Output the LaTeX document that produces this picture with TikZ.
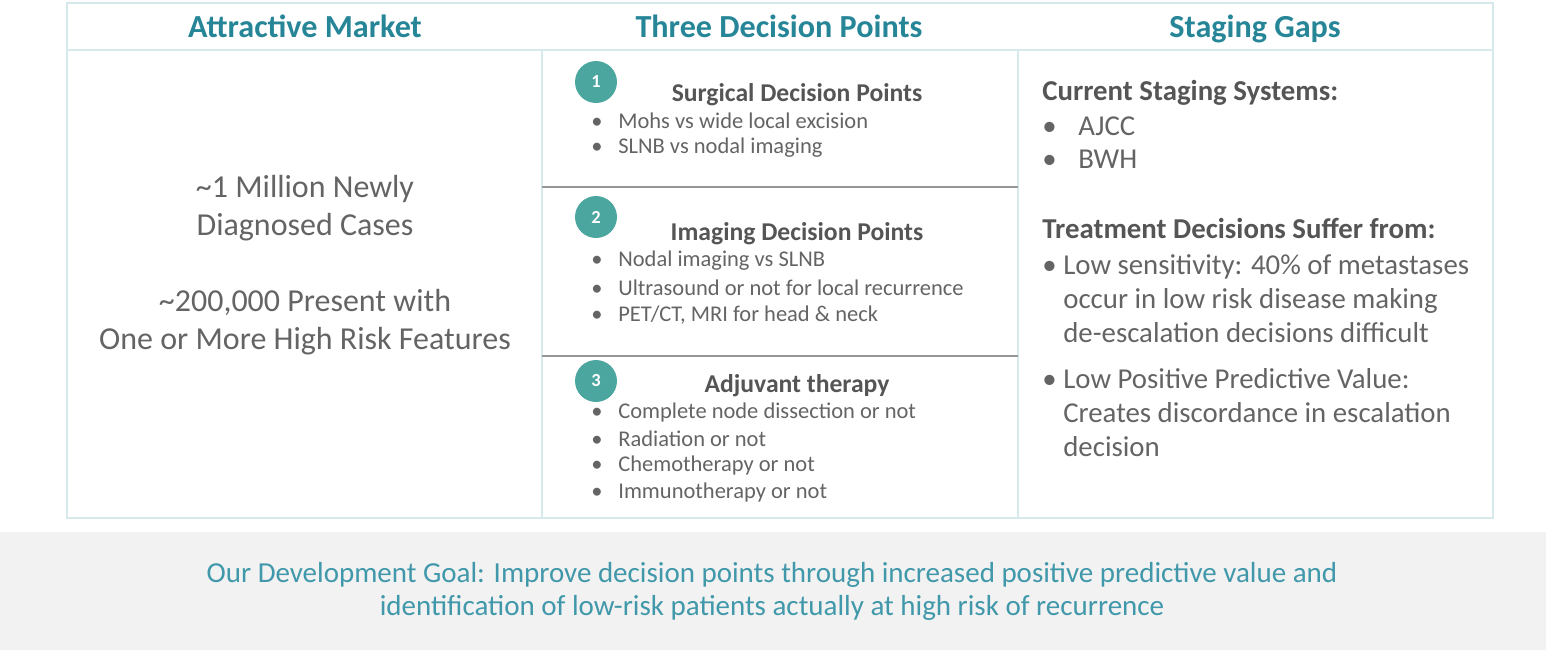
\documentclass[tikz,border=0pt]{standalone}
\usepackage{fontspec}
\setmainfont{Carlito}
\usetikzlibrary{positioning}

\definecolor{headteal}{RGB}{38,134,152}
\definecolor{goalteal}{RGB}{64,152,170}
\definecolor{circteal}{RGB}{76,166,160}
\definecolor{tableline}{RGB}{214,234,236}
\definecolor{divgrey}{RGB}{150,150,150}
\definecolor{bodygrey}{RGB}{100,100,100}
\definecolor{titlegrey}{RGB}{85,85,85}
\definecolor{bandgrey}{RGB}{242,242,242}

% bullet in a box of given width
\newcommand{\bulbox}[1]{\makebox[#1][l]{\textbullet}}

\begin{document}
\begin{tikzpicture}[
    x=0.02cm, y=-0.02cm, % one unit = one pixel of the slide
    node distance=5.4mm and 5mm,
    headstyle/.style={font=\fontsize{18.3}{21}\selectfont\bfseries, text=headteal, inner sep=0pt, anchor=base},
    marketstyle/.style={font=\fontsize{18.2}{21.6}\selectfont, text=bodygrey, align=center, inner sep=0pt},
    numcircle/.style={circle, fill=circteal, minimum size=8.4mm, inner sep=0pt, text=white, font=\fontsize{10.5}{12}\selectfont\bfseries},
    titlestyle/.style={font=\fontsize{14.6}{17}\selectfont\bfseries, text=titlegrey, inner sep=0pt, anchor=base},
    itemstyle/.style={font=\fontsize{12.8}{15}\selectfont, text=bodygrey, inner sep=0pt, anchor=west},
    gapheadstyle/.style={font=\fontsize{16.4}{19}\selectfont\bfseries, text=titlegrey, inner sep=0pt, anchor=base west},
    gapitemstyle/.style={font=\fontsize{16.4}{19.3}\selectfont, text=bodygrey, inner sep=0pt, anchor=west, align=left},
    goalstyle/.style={font=\fontsize{16.5}{18.8}\selectfont, text=goalteal, align=center, inner sep=0pt},
    frame/.style={draw=tableline, line width=1.2pt},
    divider/.style={draw=divgrey, line width=1pt}
]
\useasboundingbox (0,0) rectangle (1548,650);

% Footer band
\fill[bandgrey] (0,532) rectangle (1546,650);

% Table frame
\draw[frame] (67,3) rectangle (1493,518);
\draw[frame] (67,50) -- (1493,50);
\draw[frame] (542,50) -- (542,518);
\draw[frame] (1018,50) -- (1018,518);
\draw[divider] (542,187) -- (1018,187);
\draw[divider] (542,356) -- (1018,356);

% Column headers (placed on their baseline)
\node (h_market) [headstyle] at (305,37) {Attractive Market};
\node (h_points) [headstyle] at (779,37) {Three Decision Points};
\node (h_gaps) [headstyle] at (1255,37) {Staging Gaps};

% Attractive market
\node (market_text) [marketstyle] at (305,265) {\textasciitilde1 Million Newly\\Diagnosed Cases\\[22pt]\textasciitilde200,000 Present with\\One or More High Risk Features};

% Decision point 1
\node (num1) [numcircle] at (596,82) {1};
\node (title1) [titlestyle] at (797,101) {Surgical Decision Points};
\node (s1_a) [itemstyle] at (591,121) {\bulbox{5.4mm}Mohs vs wide local excision};
\node (s1_b) [itemstyle, below=of s1_a.west, anchor=west] {\bulbox{5.4mm}SLNB vs nodal imaging};

% Decision point 2
\node (num2) [numcircle] at (596,217) {2};
\node (title2) [titlestyle] at (797,240) {Imaging Decision Points};
\node (s2_a) [itemstyle] at (591,261) {\bulbox{5.4mm}Nodal imaging vs SLNB};
\node (s2_b) [itemstyle, below=of s2_a.west, anchor=west] {\bulbox{5.4mm}Ultrasound or not for local recurrence};
\node (s2_c) [itemstyle, below=of s2_b.west, anchor=west] {\bulbox{5.4mm}PET/CT, MRI for head \& neck};

% Decision point 3
\node (num3) [numcircle] at (596,381) {3};
\node (title3) [titlestyle] at (797,392) {Adjuvant therapy};
\node (s3_a) [itemstyle] at (591,412) {\bulbox{5.4mm}Complete node dissection or not};
\node (s3_b) [itemstyle, below=of s3_a.west, anchor=west] {\bulbox{5.4mm}Radiation or not};
\node (s3_c) [itemstyle, below=of s3_b.west, anchor=west] {\bulbox{5.4mm}Chemotherapy or not};
\node (s3_d) [itemstyle, below=of s3_c.west, anchor=west] {\bulbox{5.4mm}Immunotherapy or not};

% Staging gaps
\node (cur_head) [gapheadstyle] at (1042,100) {Current Staging Systems:};
\node (cur_a) [gapitemstyle] at (1042,126) {\bulbox{7.2mm}AJCC};
\node (cur_b) [gapitemstyle, below=6.6mm of cur_a.west, anchor=west] {\bulbox{7.2mm}BWH};
\node (treat_head) [gapheadstyle] at (1042,238) {Treatment Decisions Suffer from:};
\node (treat_a) [gapitemstyle] at (1042,299) {\bulbox{4.2mm}Low sensitivity: 40\% of metastases\\\hspace*{4.2mm}occur in low risk disease making\\\hspace*{4.2mm}de-escalation decisions difficult};
\node (treat_b) [gapitemstyle] at (1042,413) {\bulbox{4.2mm}Low Positive Predictive Value:\\\hspace*{4.2mm}Creates discordance in escalation\\\hspace*{4.2mm}decision};

% Development goal
\node (goal) [goalstyle] at (772,591) {Our Development Goal: Improve decision points through increased positive predictive value and\\identification of low-risk patients actually at high risk of recurrence};

\end{tikzpicture}
\end{document}
